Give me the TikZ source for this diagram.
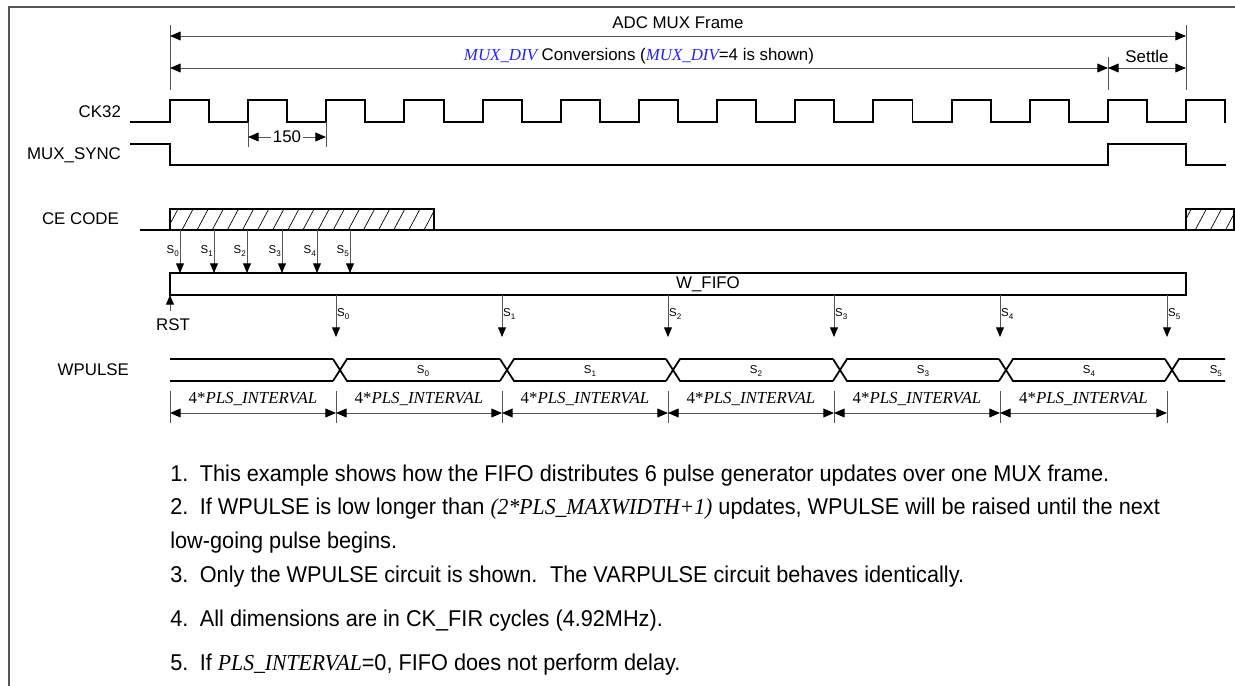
\documentclass[tikz,border=0pt]{standalone}
\usepackage{fontspec}
\setmainfont{Liberation Sans}
\newfontfamily\timesfont{Liberation Serif}
\newfontfamily\notefont[FakeStretch=0.95]{Liberation Sans}
\newfontfamily\notevarfont[FakeStretch=0.95]{Liberation Serif}
\usetikzlibrary{arrows.meta,patterns.meta}

\definecolor{dimgray}{RGB}{85,85,85}
\definecolor{muxblue}{RGB}{35,35,255}

\newcommand{\varname}[1]{{\timesfont\itshape #1}}
\newcommand{\notevar}[1]{{\notevarfont\itshape #1}}
\newcommand{\sidx}[1]{{\fontsize{6.5}{7}\selectfont S\raisebox{-1.6pt}{\fontsize{4.6}{5}\selectfont #1}}}

\begin{document}
\begin{tikzpicture}[x=0.02cm, y=-0.02cm,
	every node/.style={inner sep=1pt, font=\fontsize{9.6}{11.5}\selectfont},
	note/.style={anchor=base west, inner sep=0pt, font=\notefont\fontsize{13}{15}\selectfont},
	wave/.style={line width=1.1pt, line join=miter, line cap=rect},
	bus/.style={line width=1pt},
	dim/.style={dimgray, line width=0.5pt},
	dimarrow/.style={dim, {Triangle[length=6pt,width=5pt,color=black]}-{Triangle[length=6pt,width=5pt,color=black]}},
	sarrow/.style={dim, -{Triangle[length=5.5pt,width=4.5pt,color=black]}},
	hatch/.style={wave, pattern={Lines[angle=62,distance=7.6pt,line width=0.4pt]}}
	]
	\useasboundingbox (0,0) rectangle (1235,686);

	% Frame
	\draw[dimgray, line width=0.8pt] (1235,7) -- (9,7) -- (9,686);

	% Frame dimensions
	\draw[dim] (170,25) -- (170,90);
	\draw[dim] (1186,25) -- (1186,90);
	\draw[dim] (1108,57) -- (1108,90);
	\draw[dimarrow] (170,36) -- (1186,36);
	\draw[dimarrow] (170,68) -- (1108,68);
	\draw[dimarrow] (1108,68) -- (1186,68);
	\node (frame) at (678,23) {ADC MUX Frame};
	\node (conv) at (639,56) {\textcolor{muxblue}{\varname{MUX\_DIV}} Conversions (\textcolor{muxblue}{\varname{MUX\_DIV}}=4 is shown)};
	\node (settle) at (1147,56) {Settle};

	% Signal names
	\node[anchor=east] (ck32) at (123,112) {CK32};
	\node[anchor=east] (muxsync) at (123,155) {MUX\_SYNC};
	\node[anchor=east] (cecode) at (121,219) {CE CODE};
	\node[anchor=east] (wpulse) at (131,370) {WPULSE};

	% CK32
	\draw[wave] (131,122) foreach \k in {0,...,13} {
		-- ({170+78.154*\k},122) -- ++(0,-22) -- ++(39.08,0) -- ++(0,22)};
	\draw[dim] (248,122) -- (248,147);
	\draw[dim] (326,122) -- (326,147);
	\draw[dimarrow] (248,137) -- (326,137) node[midway, fill=white, text=black] (period) {150};

	% MUX_SYNC
	\draw[wave] (131,144) -- (170,144) -- (170,165) -- (1108,165) -- (1108,144)
		-- (1186,144) -- (1186,165) -- (1225,165);

	% CE CODE
	\draw[wave] (141,230) -- (1186,230);
	\draw[hatch] (170,230) rectangle (434,209);
	\draw[hatch] (1186,230) rectangle (1234,209);

	% Writes into the FIFO
	\foreach \x [count=\i from 0] in {180,214,247,282,317,350} {
		\draw[sarrow] (\x,230) -- (\x,273);
		\node[anchor=east, inner sep=0.5pt] (in\i) at (\x,251) {\sidx{\i}};
	}

	% W_FIFO
	\draw[wave] (170,273) rectangle (1186,295);
	\node (wfifo) at (708,284) {W\_FIFO};
	\draw[sarrow] (170,311) -- (170,295);
	\node (rst) at (173,325) {RST};

	% Reads out of the FIFO
	\foreach \x [count=\i from 0] in {336,502,668,834,1000,1167} {
		\draw[sarrow] (\x,295) -- (\x,337);
		\node[anchor=west, inner sep=0.5pt] (out\i) at (\x,314) {\sidx{\i}};
	}

	% WPULSE bus
	\draw[bus] (170,359) -- (333,359);
	\draw[bus] (170,381) -- (333,381);
	\foreach \c/\n in {340/507,507/673,673/840,840/1006,1006/1172} {
		\draw[bus] (\c-7,359) -- (\c+7,381) -- (\n-7,381);
		\draw[bus] (\c-7,381) -- (\c+7,359) -- (\n-7,359);
	}
	\draw[bus] (1165,359) -- (1179,381) -- (1225,381);
	\draw[bus] (1165,381) -- (1179,359) -- (1225,359);
	\foreach \x [count=\i from 0] in {423,590,756,923,1089} {
		\node (bus\i) at (\x,371) {\sidx{\i}};
	}
	\node[anchor=east] (bus5) at (1224,371) {\sidx{5}};

	% Interval dimensions
	\foreach \x in {170,336,502,668,834,1000,1167} {
		\draw[dim] (\x,391) -- (\x,423);
	}
	\foreach \a/\b in {170/336,336/502,502/668,668/834,834/1000,1000/1167} {
		\draw[dimarrow] (\a,413) -- (\b,413);
		\node at ({(\a+\b)/2},399) {\timesfont 4*\itshape PLS\_INTERVAL};
	}

	% Notes
	\node[note] (note1) at (170,481) {1.\hspace{0.5em}This example shows how the FIFO distributes 6 pulse generator updates over one MUX frame.};
	\node[note] (note2) at (170,514) {2.\hspace{0.5em}If WPULSE is low longer than \notevar{(2*PLS\_MAXWIDTH+1)} updates, WPULSE will be raised until the next};
	\node[note] (note2b) at (170,548) {low-going pulse begins.};
	\node[note] (note3) at (170,582) {3.\hspace{0.5em}Only the WPULSE circuit is shown.\hspace{0.55em}The VARPULSE circuit behaves identically.};
	\node[note] (note4) at (170,626) {4.\hspace{0.5em}All dimensions are in CK\_FIR cycles (4.92MHz).};
	\node[note] (note5) at (170,670) {5.\hspace{0.5em}If \notevar{PLS\_INTERVAL}=0, FIFO does not perform delay.};
\end{tikzpicture}
\end{document}
